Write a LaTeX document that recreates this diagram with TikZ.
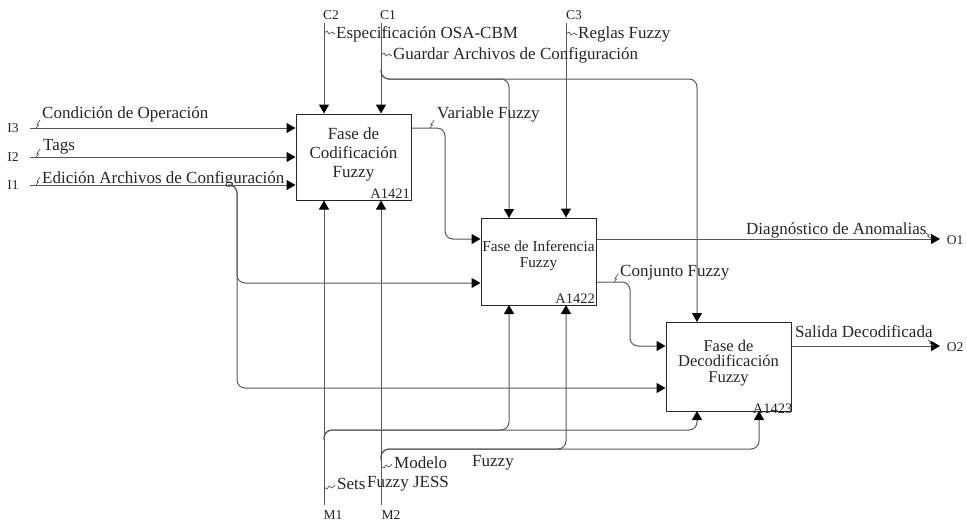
\documentclass[tikz,border=0pt]{standalone}
\usepackage{fontspec}
\setmainfont{Liberation Serif}
\usetikzlibrary{arrows.meta}
\tikzset{
  box/.style={draw=black!85, line width=1pt, inner sep=0pt, fill=white},
  conn/.style={draw=black!65, line width=1pt, rounded corners=8pt},
  arr/.style={conn, -{Triangle[length=9pt,width=10pt,fill=black,color=black]}},
  lbl/.style={font=\fontsize{17}{19}\selectfont, inner sep=0pt, anchor=west, text=black!85},
  tag/.style={font=\fontsize{13.5}{15}\selectfont, inner sep=0pt, text=black!85},
  idn/.style={font=\fontsize{14.5}{16}\selectfont, inner sep=1.5pt, text=black!85},
  sq/.style={draw=black!65, line width=0.7pt},
}
\begin{document}
\begin{tikzpicture}[x=1pt,y=-1pt]
\useasboundingbox[fill=white] (0,0) rectangle (967,523);

% boxes
\node[box, minimum width=115pt, minimum height=86pt] (b1) at (353.5,157) {};
\node[box, minimum width=115pt, minimum height=87pt] (b2) at (538.5,261.5) {};
\node[box, minimum width=125pt, minimum height=89pt] (b3) at (728.5,366.5) {};

\node[align=center, font=\fontsize{17}{19}\selectfont, text=black!85] (t1) at (353.5,154) {Fase de\\Codificación\\Fuzzy};
\node[anchor=south east, idn] (a1) at (b1.south east) {A1421};
\node[align=center, font=\fontsize{15.3}{16}\selectfont, text=black!85] (t2) at (538.5,256) {Fase de Inferencia\\Fuzzy};
\node[anchor=south east, idn] (a2) at (b2.south east) {A1422};
\node[align=center, font=\fontsize{16.5}{15.5}\selectfont, text=black!85] (t3) at (728.5,363) {Fase de\\Decodificación\\Fuzzy};
\node[anchor=base east, idn, inner sep=0pt] (a3) at ([xshift=1pt,yshift=-2pt]b3.south east) {A1423};

% boundary coordinates
\coordinate (i3) at (30,128);
\coordinate (i2) at (30,157);
\coordinate (i1) at (30,185);
\coordinate (c2) at (324,23);
\coordinate (c1) at (381,23);
\coordinate (c3) at (566,23);
\coordinate (m1) at (324,505);
\coordinate (m2) at (381,505);
\coordinate (o1) at (940,239);
\coordinate (o2) at (940,346);

% inputs
\draw[arr] (i3) -- (b1.west |- i3);
\draw[arr] (i2) -- (b1.west |- i2);
\draw[arr] (i1) -- (b1.west |- i1);
\draw[arr] (228,185) -- (237,185) -- (237,283) -- (b2.west |- 0,283);
\draw[arr] (228,185) -- (237,185) -- (237,388) -- (b3.west |- 0,388);

% controls
\draw[arr] (c2) -- (c2 |- b1.north);
\draw[arr] (c1) -- (c1 |- b1.north);
\draw[arr] (381,70) -- (381,79) -- (509,79) -- (509,218);
\draw[arr] (381,70) -- (381,79) -- (697,79) -- (697,322);
\draw[arr] (c3) -- (c3 |- b2.north);

% mechanisms
\draw[arr] (m1) -- (m1 |- b1.south);
\draw[arr] (m2) -- (m2 |- b1.south);
\draw[arr] (324,440) -- (324,430) -- (509,430) -- (509,305);
\draw[arr] (324,440) -- (324,430) -- (697,430) -- (697,411);
\draw[arr] (381,460) -- (381,449) -- (566,449) -- (566,305);
\draw[arr] (381,460) -- (381,449) -- (759,449) -- (759,411);

% internal flows and outputs
\draw[arr] (b1.east |- 0,128) -- (445,128) -- (445,239) -- (b2.west |- 0,239);
\draw[arr] (b2.east |- o1) -- (o1);
\draw[arr] (b2.east |- 0,282) -- (630,282) -- (630,346) -- (b3.west |- 0,346);
\draw[arr] (b3.east |- o2) -- (o2);

% boundary tags
\node[tag] (ti3) at (13,128) {I3};
\node[tag] (ti2) at (13,157) {I2};
\node[tag] (ti1) at (13,185) {I1};
\node[tag] (tc2) at (331,15) {C2};
\node[tag] (tc1) at (388,15) {C1};
\node[tag] (tc3) at (574,15) {C3};
\node[tag] (tm1) at (333,515) {M1};
\node[tag] (tm2) at (391,515) {M2};
\node[tag] (to1) at (955,240) {O1};
\node[tag] (to2) at (955,347) {O2};

% arrow labels
\node[lbl] (l1) at (42,114) {Condición de Operación};
\node[lbl] (l2) at (43,147) {Tags};
\node[lbl] (l3) at (42,179) {Edición Archivos de Configuración};
\node[lbl] (l4) at (336,34) {Especificación OSA-CBM};
\node[lbl] (l5) at (393,55) {Guardar Archivos de Configuración};
\node[lbl] (l6) at (578,34) {Reglas Fuzzy};
\node[lbl] (l7) at (437,114) {Variable Fuzzy};
\node[lbl] (l8) at (746,230) {Diagnóstico de Anomalias};
\node[lbl] (l9) at (620,273) {Conjunto Fuzzy};
\node[lbl] (l10) at (795,332) {Salida Decodificada};
\node[lbl] (l11) at (394,463) {Modelo};
\node[lbl] (l12) at (472,463) {Fuzzy};
\node[lbl] (l13) at (337,484) {Sets};
\node[lbl] (l14) at (367,484) {Fuzzy JESS};

% squiggles
\draw[sq] (36,128) -- (38.5,125) -- (37,124.5) -- (40,120);
\draw[sq] (36,157) -- (38.5,154) -- (37,153.5) -- (40,149);
\draw[sq] (36,185) -- (38.5,182) -- (37,181.5) -- (40,177);
\draw[sq] (324,33) -- (327,31) -- (329,34) -- (332,32) -- (335,34);
\draw[sq] (381,55) -- (384,53) -- (386,56) -- (389,54) -- (392,56);
\draw[sq] (566,34) -- (569,32) -- (571,35) -- (574,33) -- (577,35);
\draw[sq] (430,128) -- (432.5,125) -- (431,124.5) -- (434,120);
\draw[sq] (614,282) -- (616.5,279) -- (615,278.5) -- (618,274);
\draw[sq] (926,233) -- (929,235) -- (927.5,236) -- (932,239);
\draw[sq] (928,340) -- (931,342) -- (929.5,343) -- (934,346);
\draw[sq] (381,466) -- (384,468) -- (386,465) -- (389,467) -- (392,464);
\draw[sq] (324,487) -- (327,489) -- (329,486) -- (332,488) -- (335,485);
\end{tikzpicture}
\end{document}
